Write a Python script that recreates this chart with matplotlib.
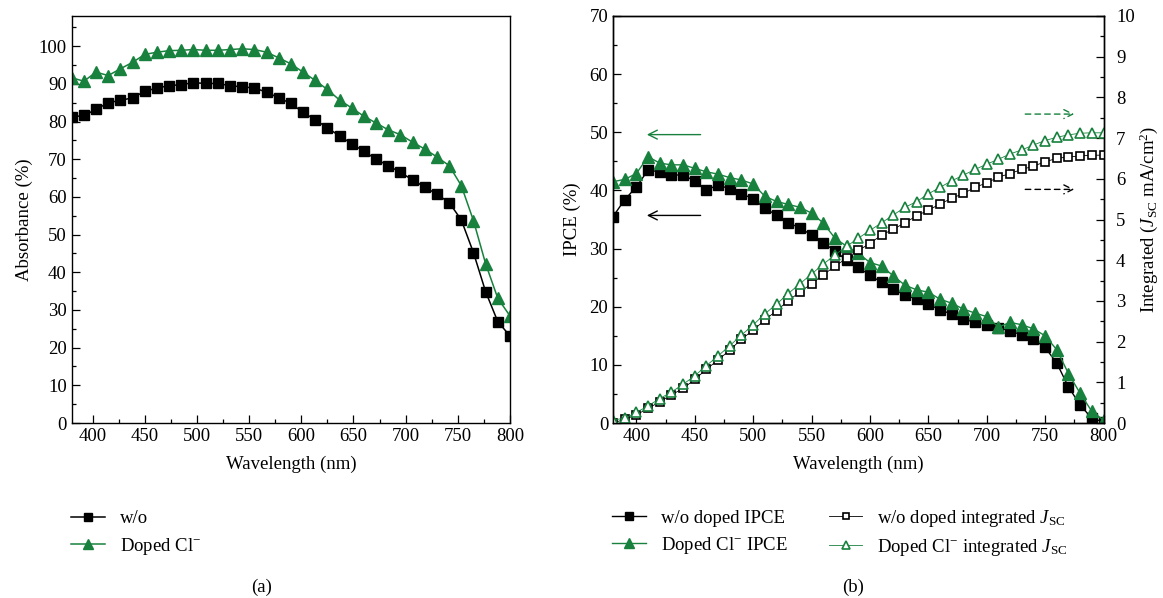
import matplotlib
matplotlib.use("Agg")
import matplotlib.pyplot as plt
from matplotlib.ticker import MultipleLocator

plt.rcParams['font.family'] = ['Liberation Serif', 'DejaVu Serif']
plt.rcParams['mathtext.fontset'] = 'custom'
plt.rcParams['mathtext.rm'] = 'Liberation Serif'
plt.rcParams['mathtext.it'] = 'Liberation Serif:italic'
plt.rcParams['font.size'] = 13.5

GREEN = '#17813d'

# (a) absorbance
abs_wl = [380, 391.7, 403.3, 415, 426.7, 438.3, 450, 461.7, 473.3, 485, 496.7, 508.3,
          520, 531.7, 543.3, 555, 566.7, 578.3, 590, 601.7, 613.3, 625, 636.7, 648.3,
          660, 671.7, 683.3, 695, 706.7, 718.3, 730, 741.7, 753.3, 765, 776.7, 788.3, 800]
abs_wo = [81.2, 81.6, 83.2, 85.0, 85.6, 86.3, 88.0, 88.9, 89.5, 89.8, 90.3, 90.1,
          90.1, 89.5, 89.2, 88.9, 87.8, 86.3, 84.8, 82.4, 80.5, 78.3, 76.2, 74.1,
          72.1, 70.0, 68.3, 66.5, 64.5, 62.6, 60.7, 58.5, 53.9, 45.2, 34.8, 26.9, 23.1]
abs_cl = [91.6, 90.7, 93.1, 92.2, 94.0, 95.7, 97.8, 98.4, 98.8, 98.9, 99.1, 98.9,
          98.9, 99.1, 99.3, 99.1, 98.4, 96.9, 95.3, 93.1, 90.9, 88.5, 85.7, 83.6,
          81.4, 79.6, 77.8, 76.5, 74.5, 72.7, 70.6, 68.3, 63.0, 53.7, 42.2, 33.1, 28.4]

# (b) IPCE and integrated Jsc
ipce_wl = [380, 390, 400, 410, 420, 430, 440, 450, 460, 470, 480, 490, 500, 510, 520,
           530, 540, 550, 560, 570, 580, 590, 600, 610, 620, 630, 640, 650, 660, 670,
           680, 690, 700, 710, 720, 730, 740, 750, 760, 770, 780, 790, 800]
ipce_wo = [35.5, 38.4, 40.6, 43.5, 43.2, 42.6, 42.7, 41.6, 40.1, 40.9, 40.3, 39.4, 38.6,
           36.9, 35.8, 34.4, 33.6, 32.3, 31.0, 29.6, 28.0, 26.8, 25.4, 24.2, 23.0, 22.0,
           21.3, 20.4, 19.5, 18.7, 17.9, 17.3, 16.9, 16.3, 15.9, 15.1, 14.4, 13.0, 10.3,
           6.2, 3.1, 0.8, 0.2]
ipce_cl = [41.5, 41.9, 42.9, 45.8, 44.7, 44.4, 44.4, 43.8, 43.2, 42.8, 42.2, 41.8, 41.1,
           39.0, 38.1, 37.6, 37.1, 36.1, 34.4, 31.8, 30.4, 29.2, 27.6, 27.0, 25.3, 23.7,
           22.9, 22.5, 21.3, 20.6, 19.6, 18.9, 18.3, 16.5, 17.3, 16.9, 16.2, 15.0, 12.6,
           8.5, 5.1, 2.0, 0.5]
jsc_wo = [0.0, 0.09, 0.2, 0.36, 0.52, 0.69, 0.85, 1.07, 1.32, 1.55, 1.79, 2.06, 2.28,
          2.53, 2.76, 3.0, 3.22, 3.42, 3.64, 3.85, 4.05, 4.24, 4.41, 4.62, 4.76, 4.92,
          5.09, 5.23, 5.38, 5.52, 5.64, 5.79, 5.90, 6.04, 6.13, 6.23, 6.31, 6.42, 6.50,
          6.54, 6.56, 6.58, 6.58]
jsc_cl = [0.07, 0.12, 0.26, 0.42, 0.60, 0.76, 0.95, 1.16, 1.41, 1.65, 1.90, 2.16, 2.41,
          2.68, 2.92, 3.18, 3.42, 3.66, 3.90, 4.13, 4.34, 4.54, 4.73, 4.92, 5.11, 5.30,
          5.44, 5.63, 5.79, 5.95, 6.09, 6.23, 6.36, 6.48, 6.61, 6.71, 6.83, 6.94, 7.02,
          7.08, 7.12, 7.13, 7.13]

fig = plt.figure(figsize=(11.63, 5.98), dpi=100)
W, H = 1163, 598
ax1 = fig.add_axes([71.7 / W, 175 / H, 438.3 / W, 407 / H])
ax2 = fig.add_axes([613 / W, 175 / H, 490.5 / W, 407 / H])
ax3 = ax2.twinx()


def style_ticks(ax, which_sides):
    ax.tick_params(which='both', direction='in', **which_sides)
    ax.tick_params(which='major', length=5.5, width=0.9)
    ax.tick_params(which='minor', length=2.8, width=0.9)
    for s in ax.spines.values():
        s.set_linewidth(1.0)


# panel (a)
ax1.plot(abs_wl, abs_wo, '-s', color='black', ms=7.5, lw=1.1, label='w/o')
ax1.plot(abs_wl, abs_cl, '-^', color=GREEN, ms=9, lw=1.1, label='Doped Cl$^{-}$')
ax1.set_xlim(380, 800)
ax1.set_ylim(0, 108)
ax1.xaxis.set_major_locator(MultipleLocator(50))
ax1.xaxis.set_minor_locator(MultipleLocator(25))
ax1.yaxis.set_major_locator(MultipleLocator(10))
ax1.yaxis.set_minor_locator(MultipleLocator(5))
ax1.set_yticks(range(0, 101, 10))
style_ticks(ax1, dict(top=False, right=False))
ax1.set_xlabel('Wavelength (nm)', labelpad=8)
ax1.set_ylabel('Absorbance (%)', labelpad=4)

# panel (b)
ax2.plot(ipce_wl, ipce_wo, '-s', color='black', ms=7, lw=1.0, label='w/o doped IPCE')
ax2.plot(ipce_wl, ipce_cl, '-^', color=GREEN, ms=8, lw=1.0, label='Doped Cl$^{-}$ IPCE')
ax3.plot(ipce_wl, jsc_wo, '-s', color='black', ms=5.5, lw=0.6, mfc='white', mew=1.2,
         label='w/o doped integrated $J_{\\mathrm{SC}}$')
ax3.plot(ipce_wl, jsc_cl, '-^', color=GREEN, ms=7, lw=0.6, mfc='white', mew=1.2,
         label='Doped Cl$^{-}$ integrated $J_{\\mathrm{SC}}$')
ax2.set_xlim(380, 800)
ax2.set_ylim(0, 70)
ax3.set_ylim(0, 10)
ax2.xaxis.set_major_locator(MultipleLocator(50))
ax2.xaxis.set_minor_locator(MultipleLocator(25))
ax2.yaxis.set_major_locator(MultipleLocator(10))
ax2.yaxis.set_minor_locator(MultipleLocator(5))
ax3.yaxis.set_major_locator(MultipleLocator(1))
ax3.yaxis.set_minor_locator(MultipleLocator(0.5))
style_ticks(ax2, dict(top=False, right=False))
style_ticks(ax3, dict(top=False, left=False))
ax3.tick_params(axis='y', pad=9)
ax2.set_xlabel('Wavelength (nm)', labelpad=8)
ax2.set_ylabel('IPCE (%)', labelpad=6)
ax3.set_ylabel('Integrated ($J_{\\mathrm{SC}}$ mA/cm$^2$)', labelpad=2)

# direction arrows
arr = dict(arrowstyle='->', lw=1.0, shrinkA=0, shrinkB=0, mutation_scale=16)
ax2.annotate('', xy=(409, 49.6), xytext=(455, 49.6), arrowprops=dict(arr, color=GREEN))
ax2.annotate('', xy=(409, 35.7), xytext=(455, 35.7), arrowprops=dict(arr, color='black'))
ax3.annotate('', xy=(775, 7.59), xytext=(733, 7.59),
             arrowprops=dict(arr, color=GREEN, linestyle=(0, (4, 3))))
ax3.annotate('', xy=(775, 5.74), xytext=(733, 5.74),
             arrowprops=dict(arr, color='black', linestyle=(0, (4, 3))))

# legends
fig.legend(*ax1.get_legend_handles_labels(), loc='upper left',
           bbox_to_anchor=(71 / W, (598 - 510) / H), frameon=False, borderpad=0,
           borderaxespad=0, handlelength=1.8, handletextpad=0.8, labelspacing=0.45,
           markerscale=0.85)
h2, l2 = ax2.get_legend_handles_labels()
h3, l3 = ax3.get_legend_handles_labels()
fig.legend(h2 + h3, l2 + l3, loc='upper left', ncol=2,
           bbox_to_anchor=(612 / W, (598 - 508) / H), frameon=False, borderpad=0,
           borderaxespad=0, handlelength=1.8, handletextpad=0.8, labelspacing=0.4,
           columnspacing=2.2, markerscale=0.9)

fig.text(261.7 / W, 1 - 587 / H, '(a)', ha='center', va='center')
fig.text(853 / W, 1 - 587 / H, '(b)', ha='center', va='center')

fig.savefig('out.png', dpi=100)
